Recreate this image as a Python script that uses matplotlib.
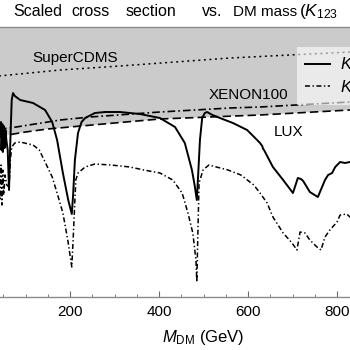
import numpy as np
import matplotlib
matplotlib.use("Agg")
import matplotlib.pyplot as plt

plt.rcParams["font.family"] = ["Liberation Sans", "DejaVu Sans"]
plt.rcParams["mathtext.fontset"] = "custom"
plt.rcParams["mathtext.rm"] = "Liberation Sans"
plt.rcParams["mathtext.it"] = "Liberation Sans:italic"
plt.rcParams["lines.scale_dashes"] = False

# ── Data (x: DM mass in GeV, y: scaled cross section, arbitrary log units) ──
m_k1 = [40, 43, 45, 46, 48, 49, 51, 53, 55, 57, 60, 63, 66, 69, 72, 76, 88, 117,
        144, 160, 171, 184, 196, 204, 207, 211, 218, 226, 234, 256, 279, 312,
        357, 402, 436, 458, 474, 480, 485, 488, 492, 497, 503, 508, 520, 537,
        566, 598, 616, 627, 632, 634, 636, 656, 679, 701, 712, 719, 724, 739,
        757, 773, 780, 789, 796, 807, 818, 829, 840]
y_k1 = [16.0, 16.2, 17.5, 14.7, 17.3, 14.5, 17.1, 14.9, 16.7, 15.7, 14.7, 10.7,
        15.7, 19.7, 20.4, 20.1, 19.7, 19.4, 18.7, 17.5, 15.7, 12.4, 9.7, 8.3,
        10.2, 13.7, 16.4, 17.5, 17.9, 18.4, 18.5, 18.5, 18.3, 17.9, 17.0, 15.4,
        12.7, 11.2, 9.7, 12.2, 15.7, 17.9, 18.4, 18.5, 18.2, 17.9, 17.4, 16.7,
        15.9, 15.4, 15.1, 14.8, 14.7, 13.0, 11.7, 10.4, 11.9, 11.8, 11.6, 10.5,
        10.0, 11.7, 12.2, 12.4, 13.0, 13.5, 13.4, 13.5, 13.7]

m_k2 = [40, 43, 45, 47, 49, 51, 54, 58, 63, 66, 69, 76, 88, 117, 131, 144, 160,
        171, 184, 195, 200, 204, 207, 213, 218, 234, 256, 292, 335, 366, 402,
        431, 452, 465, 476, 483, 485, 487, 490, 499, 512, 555, 584, 613, 627,
        643, 656, 679, 699, 710, 717, 728, 739, 755, 764, 773, 784, 800, 807,
        822, 829, 840]
y_k2 = [10.5, 9.7, 13.2, 9.2, 12.7, 10.2, 12.2, 11.2, 11.0, 13.7, 15.0, 15.4,
        15.5, 15.2, 14.7, 13.5, 12.0, 10.4, 8.4, 5.7, 4.2, 3.0, 5.7, 11.7, 12.4,
        13.0, 13.3, 13.2, 13.0, 12.7, 12.4, 11.7, 10.4, 8.4, 6.4, 3.7, 1.5, 5.7,
        11.4, 12.7, 13.2, 12.7, 12.2, 11.2, 10.4, 9.4, 8.0, 6.4, 5.4, 4.7, 6.5,
        6.4, 5.7, 5.0, 4.7, 6.0, 6.7, 7.5, 8.2, 8.3, 8.0, 7.8]

m_xenon = [40, 65, 178, 245, 402, 560, 627, 829, 1000]
y_xenon = [16.8, 16.9, 17.7, 18.0, 18.5, 18.9, 19.0, 19.5, 19.9]

m_lux = [40, 60, 100, 150, 200, 300, 402, 627, 829, 1000]
y_lux = [15.9, 16.2, 16.5, 16.8, 17.0, 17.4, 17.8, 18.2, 18.7, 19.0]

m_cdms = [40, 178, 312, 436, 560, 694, 829, 1000]
y_cdms = [22.1, 22.7, 23.1, 23.5, 23.9, 24.2, 24.5, 24.9]

labels = [r"$K_{123}$", r"$K_{123}$"]
x_major = [200, 400, 600, 800]

# ── Figure ──
fig = plt.figure(figsize=(3.5, 3.5), dpi=100)
ax = fig.add_axes([-19 / 350, 53 / 350, 445 / 350, 270 / 350])
ax.set_xlim(0, 1000)
ax.set_ylim(0, 27)

ax.fill_between(m_lux, y_lux, 27, color="#cbcbcb", lw=0, zorder=0)

ax.plot(m_cdms, y_cdms, color="black", lw=1.1, ls=(0, (1.4, 2.6)), zorder=2)
ax.plot(m_xenon, y_xenon, color="black", lw=1.2, ls=(0, (5.5, 2.2, 1.2, 2.2)), zorder=2)
ax.plot(m_lux, y_lux, color="black", lw=1.2, ls=(0, (6, 3)), zorder=2)

h1, = ax.plot(m_k1, y_k1, color="black", lw=1.4, ls="-", zorder=3)
h2, = ax.plot(m_k2, y_k2, color="black", lw=1.1, ls=(0, (3.6, 1.8, 1.0, 1.8)), zorder=3)

ax.text(211, 23.9, "SuperCDMS", fontsize=11, ha="center", va="center")
ax.text(600, 20.2, "XENON100", fontsize=11, ha="center", va="center")
ax.text(692, 16.5, "LUX", fontsize=11, ha="center", va="center")

leg = ax.legend([h1, h2], labels, loc="upper left",
                bbox_to_anchor=(297 / 350, 1 - 47 / 350),
                bbox_transform=fig.transFigure, borderaxespad=0,
                fontsize=12, frameon=True, facecolor="white", framealpha=0.6,
                edgecolor="none", fancybox=False, handlelength=1.45,
                handletextpad=0.6, borderpad=0.5, labelspacing=0.25)

for side in ["top", "bottom", "left", "right"]:
    ax.spines[side].set_color("#8a8a8a")
    ax.spines[side].set_linewidth(1.0)

ax.set_xticks(x_major)
ax.set_xticks(np.arange(0, 1001, 50), minor=True)
ax.tick_params(axis="x", which="major", direction="in", length=4, width=0.8,
               color="#6a6a6a", labelsize=11, pad=6)
ax.tick_params(axis="x", which="minor", direction="in", length=2, width=0.6,
               color="#6a6a6a")
ax.set_yticks([])
ax.set_xlabel(r"$M_{\mathrm{DM}}$ (GeV)", fontsize=12, labelpad=6)

# title, words spread as in the original
title_y = 1 - 16 / 350
for x_px, word, fs in [(13, "Scaled", 11.5), (71, "cross", 11.5),
                       (126, "section", 11.5), (202, "vs.", 11.5),
                       (233, "DM mass", 11), (299, r"($K_{123}$", 12.5)]:
    fig.text(x_px / 350, title_y, word, fontsize=fs, ha="left", va="baseline")

fig.savefig("out.png", dpi=100)
